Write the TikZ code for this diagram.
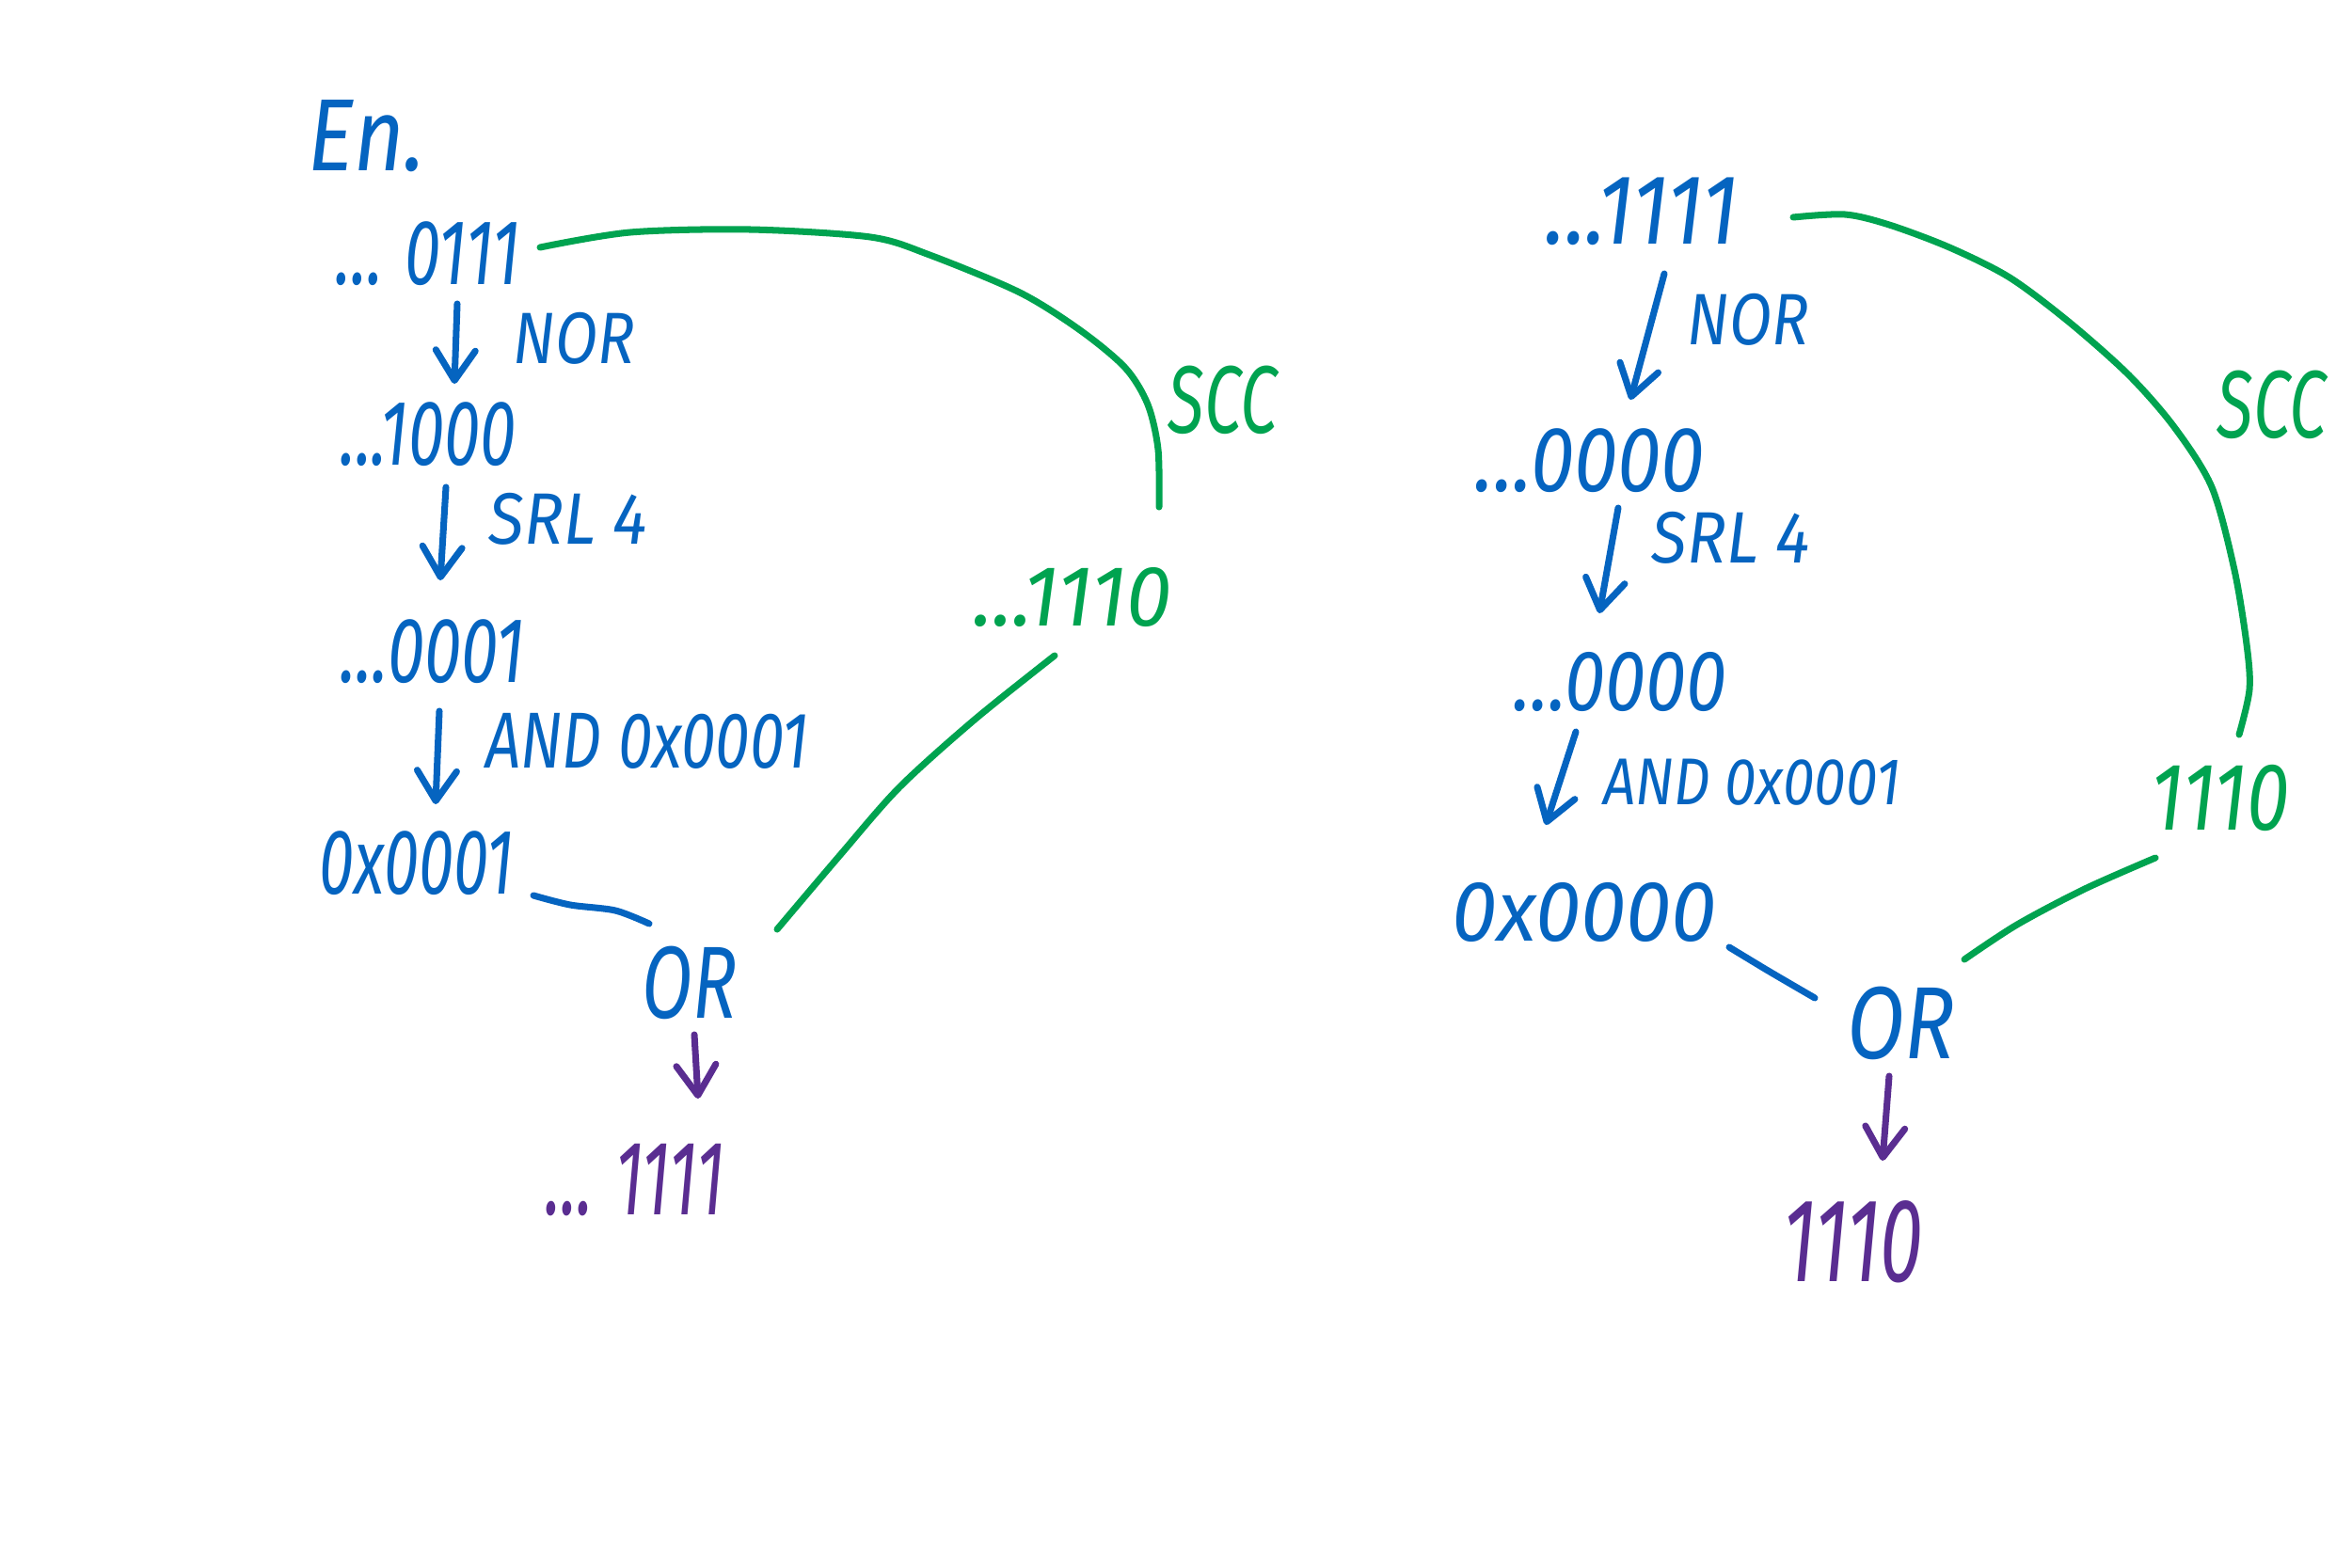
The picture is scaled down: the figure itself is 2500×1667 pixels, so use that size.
\documentclass[tikz,border=0pt]{standalone}
\usepackage{fontspec}
\setmainfont{Fira Sans}
\usetikzlibrary{arrows.meta}
\definecolor{inkblue}{RGB}{5,100,192}
\definecolor{inkgreen}{RGB}{0,163,80}
\definecolor{inkpurple}{RGB}{90,45,145}
\begin{document}
\begin{tikzpicture}[x=0.01cm,y=-0.01cm,
  hw/.style={font=\fontsize{#1}{#1}\selectfont\itshape, inner sep=0pt},
  blue/.style={text=inkblue},
  green/.style={text=inkgreen},
  purple/.style={text=inkpurple},
  stroke/.style={line width=2pt, line cap=round, line join=round},
  arr/.style={stroke, -{Straight Barb[length=0.32cm,width=0.42cm,line width=2pt,round]}}
]
\useasboundingbox (0,0) rectangle (2500,1667);
% ---------- left example ----------
\node[hw=31, blue, xscale=0.85] (ex) at (390,145) {En.};
\node[hw=28, blue, xscale=0.7] (l1) at (455,270) {... 0111};
\node[hw=22, blue, xscale=0.85] (lnor) at (610,360) {NOR};
\node[hw=28, blue, xscale=0.7] (l2) at (455,462) {...1000};
\node[hw=22, blue, xscale=0.9] (lsrl) at (604,552) {SRL 4};
\node[hw=28, blue, xscale=0.72] (l3) at (460,693) {...0001};
\node[hw=24, blue, xscale=0.78] (land) at (688,788) {AND 0x0001};
\node[hw=28, blue, xscale=0.68] (l4) at (443,918) {0x0001};
\node[hw=31, blue, xscale=0.72] (lor) at (733,1045) {OR};
\node[hw=32, purple, xscale=0.62] (lres) at (675,1255) {... 1111};
\node[hw=26, green, xscale=0.95] (lg) at (1140,635) {...1110};
\node[hw=29, green, xscale=0.7] (lscc) at (1300,425) {SCC};

\coordinate (la1s) at (486,323); \coordinate (la1e) at (483,408);
\coordinate (la2s) at (474,518); \coordinate (la2e) at (468,617);
\coordinate (la3s) at (467,756); \coordinate (la3e) at (463,855);
\coordinate (la4s) at (738,1100); \coordinate (la4e) at (742,1168);
\draw[arr, inkblue] (la1s) -- (la1e);
\draw[arr, inkblue] (la2s) -- (la2e);
\draw[arr, inkblue] (la3s) -- (la3e);
\draw[arr, inkpurple] (la4s) -- (la4e);

\draw[stroke, inkblue] plot[smooth] coordinates {(567,952) (606,962) (654,968) (690,982)};
\draw[stroke, inkgreen] plot[smooth] coordinates {(574,263) (670,247) (797,244) (925,252) (988,271) (1084,311) (1148,351) (1196,391) (1220,430) (1231,478) (1232,539)};
\draw[stroke, inkgreen] plot[smooth] coordinates {(1121,697) (1036,765) (956,837) (893,909) (826,988)};

% ---------- right example ----------
\node[hw=30, blue, xscale=0.85] (r1) at (1745,225) {...1111};
\node[hw=22, blue, xscale=0.85] (rnor) at (1858,340) {NOR};
\node[hw=28, blue, xscale=0.85] (r2) at (1690,490) {...0000};
\node[hw=22, blue, xscale=0.9] (rsrl) at (1840,572) {SRL 4};
\node[hw=26, blue, xscale=0.85] (r3) at (1722,725) {...0000};
\node[hw=20, blue, xscale=0.86] (rand) at (1862,832) {AND 0x0001};
\node[hw=26, blue, xscale=0.95] (r4) at (1684,970) {0x0000};
\node[hw=31, blue, xscale=0.82] (ror) at (2021,1088) {OR};
\node[hw=36, purple, xscale=0.65] (rres) at (1970,1320) {1110};
\node[hw=29, green, xscale=0.8] (rg) at (2360,848) {1110};
\node[hw=29, green, xscale=0.7] (rscc) at (2415,430) {SCC};

\coordinate (ra1s) at (1769,291); \coordinate (ra1e) at (1733,425);
\coordinate (ra2s) at (1720,540); \coordinate (ra2e) at (1700,652);
\coordinate (ra3s) at (1675,778); \coordinate (ra3e) at (1643,877);
\coordinate (ra4s) at (2008,1144); \coordinate (ra4e) at (2001,1234);
\draw[arr, inkblue] (ra1s) -- (ra1e);
\draw[arr, inkblue] (ra2s) -- (ra2e);
\draw[arr, inkblue] (ra3s) -- (ra3e);
\draw[arr, inkpurple] (ra4s) -- (ra4e);

\draw[stroke, inkblue] plot[smooth] coordinates {(1838,1007) (1881,1033) (1929,1061)};
\draw[stroke, inkgreen] plot[smooth] coordinates {(1906,231) (1961,228) (2008,239) (2072,263) (2136,295) (2200,343) (2263,399) (2311,454) (2351,518) (2375,606) (2388,685) (2391,733) (2380,781)};
\draw[stroke, inkgreen] plot[smooth] coordinates {(2291,912) (2216,945) (2144,983) (2088,1020)};
\end{tikzpicture}
\end{document}
